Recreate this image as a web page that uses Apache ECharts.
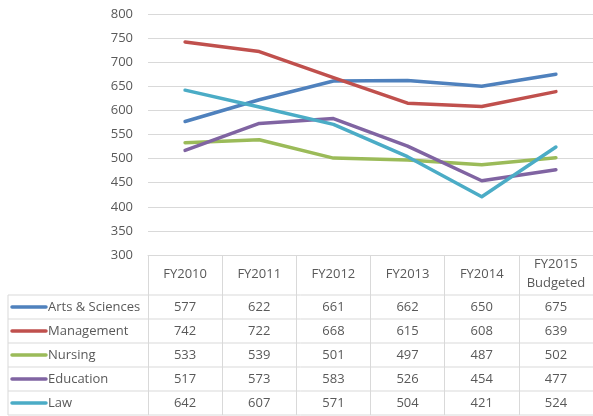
<!DOCTYPE html>
<html>
<head>
<meta charset="utf-8">
<script src="https://cdn.jsdelivr.net/npm/echarts@6/dist/echarts.min.js"></script>
<style>
html,body{margin:0;padding:0;background:#fff;}
#chart{width:593px;height:416px;}
</style>
</head>
<body>
<div id="chart"></div>
<script>
var categories = ['FY2010', 'FY2011', 'FY2012', 'FY2013', 'FY2014', 'FY2015\nBudgeted'];
var seriesNames = ['Arts & Sciences', 'Management', 'Nursing', 'Education', 'Law'];
var artsSciences = [577, 622, 661, 662, 650, 675];
var management = [742, 722, 668, 615, 608, 639];
var nursing = [533, 539, 501, 497, 487, 502];
var education = [517, 573, 583, 526, 454, 477];
var law = [642, 607, 571, 504, 421, 524];
var yTicks = [300, 350, 400, 450, 500, 550, 600, 650, 700, 750, 800];
var colors = ['#4F81BD', '#C0504D', '#9BBB59', '#8064A2', '#4BACC6'];

var allValues = [artsSciences, management, nursing, education, law];
var FONT = '"Open Sans", "Noto Sans", sans-serif';
var TEXT = '#595959';
var GRIDC = '#d9d9d9';

var plotLeft = 148, plotTop = 14, plotBottomY = 255, plotWidth = 448;
var headerH = 40, rowH = 24, tableLeft = 8;

var chart = echarts.init(document.getElementById('chart'));
var series = seriesNames.map(function (n, i) {
  return {
    name: n, type: 'line', data: allValues[i], symbol: 'none', smooth: false,
    lineStyle: { color: colors[i], width: 3.5, cap: 'round', join: 'round' },
    itemStyle: { color: colors[i] }, z: 3
  };
});

chart.setOption({
  animation: false,
  backgroundColor: '#fff',
  grid: { left: plotLeft, top: plotTop, width: plotWidth, height: plotBottomY - plotTop, containLabel: false },
  xAxis: {
    type: 'category', data: categories, boundaryGap: true,
    axisLine: { show: true, lineStyle: { color: GRIDC, width: 1 } },
    axisTick: { show: true, alignWithLabel: false, length: headerH + rowH * 5, lineStyle: { color: GRIDC, width: 1 } },
    axisLabel: { color: TEXT, fontFamily: FONT, fontSize: 13, margin: 19, verticalAlign: 'middle', lineHeight: 19, interval: 0 },
    splitLine: { show: false }
  },
  yAxis: {
    type: 'value', min: yTicks[0], max: yTicks[yTicks.length - 1], interval: 50,
    axisLine: { show: false }, axisTick: { show: false },
    axisLabel: { color: TEXT, fontFamily: FONT, fontSize: 13, margin: 15 },
    splitLine: { show: true, lineStyle: { color: GRIDC, width: 1 } }
  },
  series: series
});

// data table below the plot
var graphics = [];
var rowTop = plotBottomY + headerH;
for (var r = 0; r <= seriesNames.length; r++) {
  var yy = rowTop + r * rowH;
  graphics.push({ type: 'line', shape: { x1: tableLeft, y1: yy, x2: 593, y2: yy }, style: { stroke: GRIDC, lineWidth: 1 }, silent: true });
}
graphics.push({ type: 'line', shape: { x1: tableLeft, y1: rowTop, x2: tableLeft, y2: rowTop + rowH * seriesNames.length }, style: { stroke: GRIDC, lineWidth: 1 }, silent: true });

seriesNames.forEach(function (n, i) {
  var cy = rowTop + i * rowH + rowH / 2;
  graphics.push({ type: 'line', shape: { x1: 12, y1: cy, x2: 46, y2: cy }, style: { stroke: colors[i], lineWidth: 3.5, lineCap: 'round' }, silent: true });
  graphics.push({ type: 'text', x: 48, y: cy, style: { text: n, fill: TEXT, font: '13px ' + FONT, textAlign: 'left', textVerticalAlign: 'middle' }, silent: true });
  allValues[i].forEach(function (v, j) {
    var px = chart.convertToPixel({ xAxisIndex: 0 }, j);
    graphics.push({ type: 'text', x: px, y: cy, style: { text: String(v), fill: TEXT, font: '13px ' + FONT, textAlign: 'center', textVerticalAlign: 'middle' }, silent: true });
  });
});

chart.setOption({ graphic: graphics });
</script>
</body>
</html>
